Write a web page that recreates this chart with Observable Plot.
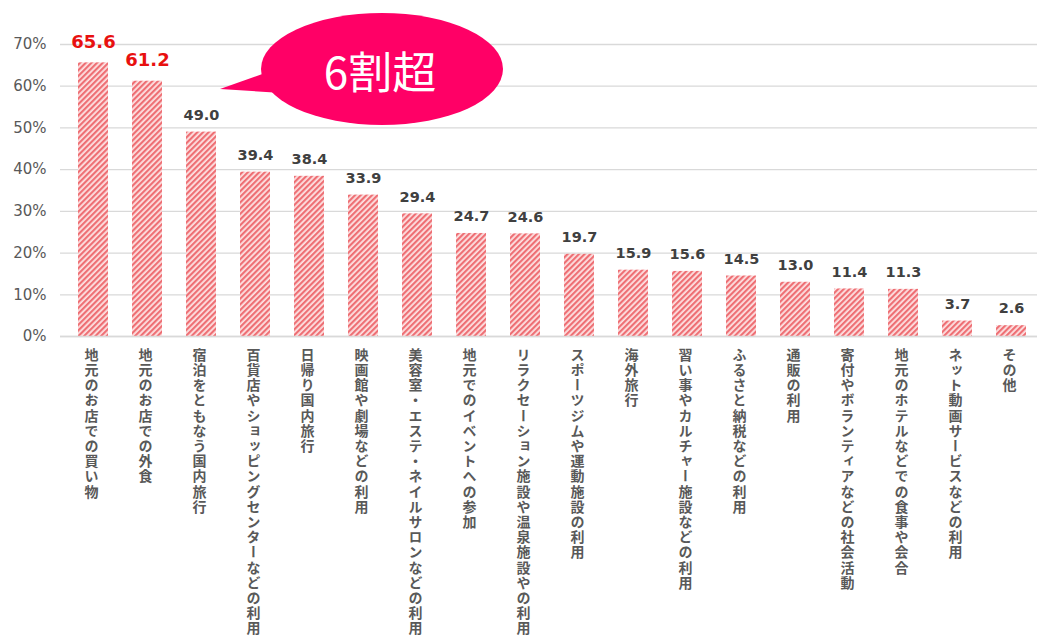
<!DOCTYPE html>
<html><head><meta charset="utf-8">
<script src="https://cdn.jsdelivr.net/npm/d3@7"></script>
<script src="https://cdn.jsdelivr.net/npm/@observablehq/plot@0.6"></script>
<style>body{margin:0;background:#fff;} #chart{width:1037px;height:638px;overflow:hidden}</style>
</head><body><div id="chart"></div>
<script>
const categories = [
  "地元のお店での買い物",
  "地元のお店での外食",
  "宿泊をともなう国内旅行",
  "百貨店やショッピングセンターなどの利用",
  "日帰り国内旅行",
  "映画館や劇場などの利用",
  "美容室・エステ・ネイルサロンなどの利用",
  "地元でのイベントへの参加",
  "リラクセーション施設や温泉施設やの利用",
  "スポーツジムや運動施設の利用",
  "海外旅行",
  "習い事やカルチャー施設などの利用",
  "ふるさと納税などの利用",
  "通販の利用",
  "寄付やボランティアなどの社会活動",
  "地元のホテルなどでの食事や会合",
  "ネット動画サービスなどの利用",
  "その他"
];
const values = [65.6, 61.2, 49.0, 39.4, 38.4, 33.9, 29.4, 24.7, 24.6, 19.7, 15.9, 15.6, 14.5, 13.0, 11.4, 11.3, 3.7, 2.6];
const highlighted = ["地元のお店での買い物", "地元のお店での外食"];
const yTicks = [0, 10, 20, 30, 40, 50, 60, 70];
const calloutText = "6割超";

const data = categories.map((c, i) => ({category: c, value: values[i], top: highlighted.includes(c)}));
const numFont = "'DejaVu Sans', Verdana, sans-serif";
const jpFont = "'Noto Sans CJK JP', sans-serif";

const plot = Plot.plot({
  width: 1037, height: 638,
  marginTop: 44, marginBottom: 302, marginLeft: 60, marginRight: -6,
  style: {fontFamily: numFont, background: "#fff", overflow: "visible"},
  x: {domain: categories, paddingInner: 0.45, paddingOuter: 0.24, axis: null},
  y: {domain: [0, 70], label: null, axis: null},
  marks: [
    Plot.gridY(yTicks, {stroke: "#d9d9d9", strokeOpacity: 1, strokeWidth: 1.3}),
    Plot.axisY(yTicks, {tickSize: 0, tickPadding: 14, tickFormat: d => d + "%", fontSize: 15, color: "#595959", label: null}),
    Plot.barY(data, {x: "category", y: "value", fill: "url(#hatch)"}),
    Plot.ruleY([0], {stroke: "#d9d9d9", strokeWidth: 1.5}),
    Plot.text(data.filter(d => !d.top), {x: "category", y: "value", text: d => d.value.toFixed(1), dy: -17, fontSize: 14.5, fontWeight: "bold", fill: "#404040", fontFamily: numFont}),
    Plot.text(data.filter(d => d.top), {x: "category", y: "value", text: d => d.value.toFixed(1), dy: -21, fontSize: 18, fontWeight: "bold", fill: "#e8100f", fontFamily: numFont}),
    Plot.text(data, {x: "category", frameAnchor: "bottom", text: "category", dy: 11, dx: -2, fontSize: 14, fontWeight: "bold", fill: "#595959", fontFamily: jpFont})
  ]
});

const svg = d3.select(plot);
const defs = svg.insert("defs", ":first-child");
const pat = defs.append("pattern").attr("id", "hatch").attr("patternUnits", "userSpaceOnUse")
  .attr("width", 4).attr("height", 4).attr("patternTransform", "rotate(45)");
pat.append("rect").attr("width", 4).attr("height", 4).attr("fill", "#fde3e4");
pat.append("rect").attr("width", 2.2).attr("height", 4).attr("fill", "#ee6f74");

svg.selectAll("text").filter(function() { return categories.includes(this.textContent); })
  .attr("dy", null)
  .attr("text-anchor", "start")
  .attr("writing-mode", "vertical-rl")
  .style("writing-mode", "vertical-rl")
  .style("text-orientation", "upright")
  .style("letter-spacing", "1.2px")
  .style("text-anchor", "start");

// callout anchored to the scales
const xs = plot.scale("x"), ys = plot.scale("y");
const tipX = xs.apply(categories[2]) + xs.bandwidth + 4;
const tipY = ys.apply(59.2);
const cx = tipX + 162, cy = ys.apply(64);
const g = svg.append("g");
g.append("path")
  .attr("d", `M${tipX},${tipY} L${tipX + 48},${cy + 3} L${tipX + 62},${cy + 24} Z`)
  .attr("fill", "#ff0066");
g.append("ellipse").attr("cx", cx).attr("cy", cy).attr("rx", 121).attr("ry", 56).attr("fill", "#ff0066");
g.append("text").attr("x", cx - 2).attr("y", cy + 1).attr("text-anchor", "middle").attr("dominant-baseline", "central")
  .attr("fill", "#fff").attr("font-size", 44).attr("font-family", "'Noto Sans CJK JP', sans-serif").text(calloutText);

document.getElementById("chart").append(plot);
</script>
</body></html>
